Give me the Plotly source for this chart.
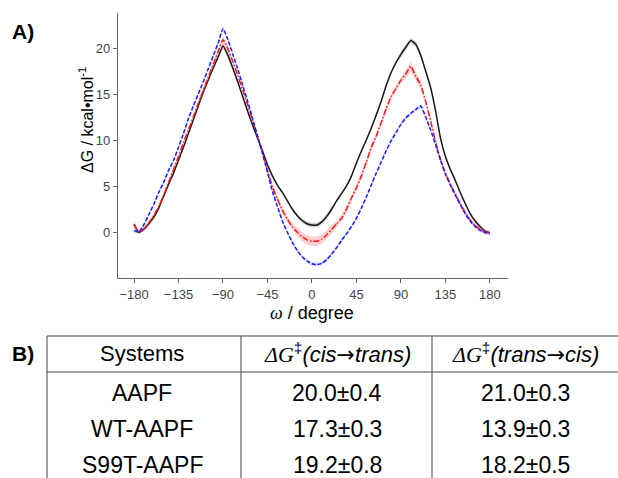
import plotly.graph_objects as go

W, H = 618, 478

# ---------------- data ----------------
omega = list(range(-180, 181, 5))

dg_aapf = [0.9, 0.05, 0.4, 1.0, 1.7, 2.7, 4.0, 5.3, 6.5, 7.9, 9.3, 10.8, 12.3, 13.8, 15.3, 16.6, 17.9, 19.1,
           20.3, 19.3, 17.9, 16.4, 14.8, 13.2, 11.7, 10.3, 8.9, 7.4, 6.2, 5.2, 4.4, 3.5, 2.6, 1.9, 1.35, 1.0,
           0.85, 0.85, 1.2, 1.8, 2.6, 3.5, 4.3, 5.1, 6.2, 7.6, 8.9, 10.1, 11.4, 12.8, 14.3, 16.0, 17.4, 18.5,
           19.4, 20.2, 20.9, 20.5, 19.3, 17.6, 15.8, 13.3, 10.3, 8.3, 6.9, 5.7, 4.4, 3.2, 2.1, 1.3, 0.7, 0.2, 0.0]
err_aapf = [0.15] * 18 + [0.3] * 3 + [0.15] * 13 + [0.25] * 7 + [0.15] * 13 + [0.3] * 5 + [0.15] * 14

dg_wt = [1.0, 0.05, 0.45, 1.1, 1.9, 2.9, 4.1, 5.5, 6.9, 8.3, 9.8, 11.2, 12.6, 14.1, 15.5, 16.9, 18.3, 19.7,
         21.0, 20.0, 18.6, 17.1, 15.5, 13.9, 12.2, 10.5, 8.7, 6.8, 5.0, 3.7, 2.5, 1.5, 0.7, 0.1, -0.4, -0.75,
         -0.9, -0.9, -0.7, -0.2, 0.4, 1.0, 1.6, 2.6, 3.8, 4.9, 6.2, 7.7, 9.3, 10.5, 12.0, 13.5, 14.8, 15.7,
         16.6, 17.3, 18.1, 17.0, 16.1, 14.3, 12.2, 9.9, 8.0, 6.5, 5.3, 4.2, 3.2, 2.2, 1.4, 0.8, 0.4, 0.1, 0.0]
err_wt = [0.2] * 17 + [0.35] * 3 + [0.2] * 7 + [0.3] * 6 + [0.5] * 8 + [0.35] * 8 + [0.3] * 6 + [0.5] * 4 + [0.25] * 14

dg_s99t = [0.25, 0.1, 0.9, 2.0, 3.1, 4.4, 5.5, 6.8, 7.9, 9.3, 10.8, 12.4, 13.8, 15.1, 16.4, 17.8, 19.2, 20.6,
           22.2, 21.0, 19.4, 17.8, 16.0, 14.3, 12.4, 10.5, 8.6, 6.6, 4.5, 2.9, 1.3, 0.1, -1.0, -1.9, -2.6, -3.05,
           -3.35, -3.45, -3.3, -2.9, -2.3, -1.6, -0.8, -0.1, 0.7, 1.6, 2.7, 3.9, 5.2, 6.5, 7.7, 8.9, 10.0, 10.9,
           11.8, 12.5, 13.0, 13.4, 13.8, 12.6, 11.2, 9.6, 7.9, 6.4, 5.2, 4.1, 3.1, 2.1, 1.3, 0.7, 0.3, 0.05, 0.0]
err_s99t = [0.2] * 73

x_ticks = [-180, -135, -90, -45, 0, 45, 90, 135, 180]
y_ticks = [0, 5, 10, 15, 20]

ARROW = "<span style='font-family:DejaVu Sans'>→</span>"
DG = "<span style='font-family:Liberation Serif'><i>ΔG</i></span>"
table_header = ["Systems",
                DG + "<sup>‡</sup><i>(cis" + ARROW + "trans)</i>",
                DG + "<sup>‡</sup><i>(trans" + ARROW + "cis)</i>"]
systems = ["AAPF", "WT-AAPF", "S99T-AAPF"]
cis_to_trans = ["20.0±0.4", "17.3±0.3", "19.2±0.8"]
trans_to_cis = ["21.0±0.3", "13.9±0.3", "18.2±0.5"]

# ---------------- figure ----------------
def px(x):
    return x / W

def py(y):
    return 1 - y / H

fig = go.Figure()

series = [
    (dg_aapf, err_aapf, "#1a1a1a", "rgba(0,0,0,0.18)", "solid"),
    (dg_wt, err_wt, "#ff1a1a", "rgba(255,60,60,0.25)", "6px,2px,1.5px,2px"),
    (dg_s99t, err_s99t, "#1a1aff", "rgba(60,60,255,0.2)", "4px,2px"),
]
for vals, err, col, band, dash in series:
    up = [v + e for v, e in zip(vals, err)]
    lo = [v - e for v, e in zip(vals, err)]
    fig.add_trace(go.Scatter(x=omega, y=up, mode="lines", line=dict(width=0, color=band),
                             hoverinfo="skip", showlegend=False))
    fig.add_trace(go.Scatter(x=omega, y=lo, mode="lines", line=dict(width=0, color=band),
                             fill="tonexty", fillcolor=band, hoverinfo="skip", showlegend=False))
    fig.add_trace(go.Scatter(x=omega, y=vals, mode="lines",
                             line=dict(color=col, width=1.5, dash=dash, shape="spline", smoothing=0.5),
                             showlegend=False))

axis_common = dict(showline=True, linecolor="#666", linewidth=1.3, ticks="outside", ticklen=4,
                   tickcolor="#666", tickfont=dict(family="Liberation Sans, Arial", size=13, color="#444"),
                   showgrid=False, zeroline=False, mirror=False)

fig.update_layout(
    width=W, height=H, margin=dict(l=0, r=0, t=0, b=0),
    paper_bgcolor="white", plot_bgcolor="white",
    xaxis=dict(domain=[px(118), px(508)], range=[-196.2, 198.3], tickvals=x_ticks, **axis_common),
    yaxis=dict(domain=[py(278), py(13)], range=[-4.9, 23.9], tickvals=y_ticks, **axis_common),
)

ann = []
ann.append(dict(x=px(10), y=py(32), xref="paper", yref="paper", text="<b>A)</b>", showarrow=False,
                xanchor="left", yanchor="middle", font=dict(family="Liberation Sans, Arial", size=21, color="black")))
ann.append(dict(x=px(10), y=py(353), xref="paper", yref="paper", text="<b>B)</b>", showarrow=False,
                xanchor="left", yanchor="middle", font=dict(family="Liberation Sans, Arial", size=21, color="black")))
ann.append(dict(x=px(86), y=py(120), xref="paper", yref="paper", text="ΔG / kcal•mol<sup>-1</sup>",
                showarrow=False, textangle=-90, xanchor="center", yanchor="middle",
                font=dict(family="Liberation Sans, Arial", size=16, color="black")))
ann.append(dict(x=px(312), y=py(313), xref="paper", yref="paper",
                text="<span style='font-family:Liberation Serif'><i>ω</i></span> / degree",
                showarrow=False, xanchor="center", yanchor="middle",
                font=dict(family="Liberation Sans, Arial", size=18, color="black")))

col_x = [142, 337, 525]
row_y = [353, 393, 429, 465]
for i, h in enumerate(table_header):
    ann.append(dict(x=px(col_x[i]), y=py(row_y[0]), xref="paper", yref="paper", text=h, showarrow=False,
                    xanchor="center", yanchor="middle",
                    font=dict(family="Liberation Sans, Arial", size=22, color="black")))
for r in range(3):
    for c, val in enumerate([systems[r], cis_to_trans[r], trans_to_cis[r]]):
        ann.append(dict(x=px(col_x[c]), y=py(row_y[r + 1]), xref="paper", yref="paper", text=val,
                        showarrow=False, xanchor="center", yanchor="middle",
                        font=dict(family="Liberation Sans, Arial", size=23, color="black")))
fig.update_layout(annotations=ann)

shapes = []
lc = dict(color="#444", width=1)
shapes.append(dict(type="line", xref="paper", yref="paper", x0=px(47), x1=px(618), y0=py(336), y1=py(336), line=lc))
shapes.append(dict(type="line", xref="paper", yref="paper", x0=px(47), x1=px(618), y0=py(372), y1=py(372), line=lc))
for xv in [47, 241, 432]:
    shapes.append(dict(type="line", xref="paper", yref="paper", x0=px(xv), x1=px(xv), y0=py(336), y1=py(478), line=lc))
fig.update_layout(shapes=shapes)

fig.write_html("out.html", config={"displayModeBar": False},
               post_script="document.body.style.margin='0';document.body.style.overflow='hidden';")
